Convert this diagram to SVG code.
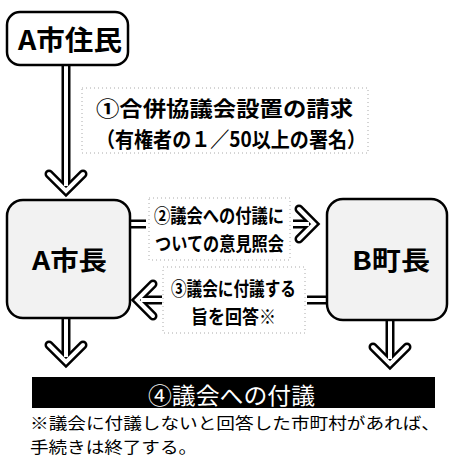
<svg xmlns="http://www.w3.org/2000/svg" width="449" height="466" viewBox="0 0 449 466">
<style>
.bg{fill:#fff}
.box{stroke:#000;stroke-width:2.5}
.w{fill:#fff}
.g{fill:#f2f2f2}
.t{font-family:"Noto Sans CJK JP","Noto Sans CJK SC",sans-serif;font-weight:700;fill:#000}
.n{font-family:"Noto Sans CJK JP","Noto Sans CJK SC",sans-serif;font-weight:400;fill:#000}
.lbl{fill:none;stroke:#aaa;stroke-width:1;stroke-dasharray:1 3}
.so{fill:none;stroke:#000;stroke-width:9;stroke-linecap:butt}
.si{fill:none;stroke:#fff;stroke-width:4;stroke-linecap:butt}
.vo{fill:none;stroke:#000;stroke-width:9;stroke-linecap:round;stroke-linejoin:miter}
.vi{fill:none;stroke:#fff;stroke-width:4;stroke-linecap:round;stroke-linejoin:miter}
</style>
<rect class="bg" x="0" y="0" width="449" height="466"/>
<g id="connectors">
  <g id="c1">
    <path class="so" d="M66,60 V186"/>
    <path class="vo" d="M49,174 L66,191 L83,174"/>
    <path class="si" d="M66,60 V186"/>
    <path class="vi" d="M49,174 L66,191 L83,174"/>
  </g>
  <g id="c2">
    <path class="so" d="M126,224 H146 M293,224 H309"/>
    <path class="vo" d="M299,209 L314,224 L299,239"/>
    <path class="si" d="M126,224 H146 M293,224 H309"/>
    <path class="vi" d="M299,209 L314,224 L299,239"/>
  </g>
  <g id="c3">
    <path class="so" d="M331,300 H307 M162,300 H141"/>
    <path class="vo" d="M153,284 L137,300 L153,316"/>
    <path class="si" d="M331,300 H307 M162,300 H141"/>
    <path class="vi" d="M153,284 L137,300 L153,316"/>
  </g>
  <g id="c4">
    <path class="so" d="M66,314 V357"/>
    <path class="vo" d="M49,345 L66,362 L83,345"/>
    <path class="si" d="M66,314 V357"/>
    <path class="vi" d="M49,345 L66,362 L83,345"/>
  </g>
  <g id="c5">
    <path class="so" d="M390,316 V359"/>
    <path class="vo" d="M373,347 L390,364 L407,347"/>
    <path class="si" d="M390,316 V359"/>
    <path class="vi" d="M373,347 L390,364 L407,347"/>
  </g>
</g>
<g id="label1">
  <rect class="lbl" x="82" y="88" width="286" height="65"/>
  <text class="t" x="96" y="116" font-size="21" textLength="257" lengthAdjust="spacingAndGlyphs">①合併協議会設置の請求</text>
  <text class="t" x="96" y="147" font-size="21" textLength="270" lengthAdjust="spacingAndGlyphs">（有権者の１／50以上の署名）</text>
</g>
<g id="label2">
  <rect class="lbl" x="149" y="198" width="141" height="62"/>
  <text class="t" x="154" y="223" font-size="19" textLength="130" lengthAdjust="spacingAndGlyphs">②議会への付議に</text>
  <text class="t" x="155" y="251" font-size="19" textLength="129" lengthAdjust="spacingAndGlyphs">ついての意見照会</text>
</g>
<g id="label3">
  <rect class="lbl" x="163" y="267" width="142" height="66"/>
  <text class="t" x="171" y="296" font-size="19" textLength="125" lengthAdjust="spacingAndGlyphs">③議会に付議する</text>
  <text class="t" x="191" y="324" font-size="19" textLength="85" lengthAdjust="spacingAndGlyphs">旨を回答※</text>
</g>
<g id="residents">
  <rect class="box w" x="7" y="12" width="121" height="53" rx="13"/>
  <text class="t" x="18" y="50" font-size="27" textLength="104" lengthAdjust="spacingAndGlyphs">A市住民</text>
</g>
<g id="mayorA">
  <rect class="box g" x="7" y="200" width="123" height="118" rx="16"/>
  <text class="t" x="32" y="270" font-size="26" textLength="75" lengthAdjust="spacingAndGlyphs">A市長</text>
</g>
<g id="mayorB">
  <rect class="box g" x="327" y="199" width="120" height="121" rx="16"/>
  <text class="t" x="352" y="270" font-size="26" textLength="78" lengthAdjust="spacingAndGlyphs">B町長</text>
</g>
<g id="step4">
  <rect x="32" y="377" width="403" height="31" fill="#000"/>
  <text class="t" x="148" y="404" font-size="23" style="fill:#fff;font-weight:400" textLength="167" lengthAdjust="spacingAndGlyphs">④議会への付議</text>
</g>
<g id="note">
  <text class="n" x="30" y="429" font-size="16" textLength="410" lengthAdjust="spacingAndGlyphs">※議会に付議しないと回答した市町村があれば、</text>
  <text class="n" x="30" y="452.5" font-size="16" textLength="167" lengthAdjust="spacingAndGlyphs">手続きは終了する。</text>
</g>
</svg>
